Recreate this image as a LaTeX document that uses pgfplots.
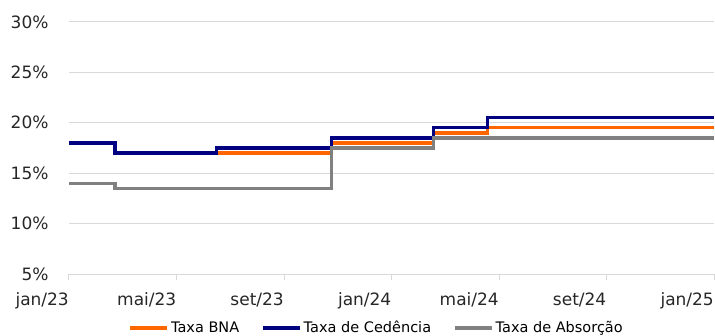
\documentclass[border=0pt]{standalone}
\usepackage{fontspec}
\setmainfont{DejaVu Sans}
\usepackage{pgfplots}
\pgfplotsset{compat=1.18}
\definecolor{bna}{RGB}{255,102,0}
\definecolor{ced}{RGB}{0,0,128}
\definecolor{absc}{RGB}{128,128,128}
\definecolor{gridc}{RGB}{217,217,217}
\begin{document}
\begin{tikzpicture}
\begin{axis}[name=ax, scale only axis, width=645bp, height=252bp,
  xmin=0, xmax=24, ymin=5, ymax=30,
  xtick={0,4,8,12,16,20,24},
  xticklabels={jan/23,mai/23,set/23,jan/24,mai/24,set/24,jan/25},
  ytick={5,10,15,20,25,30},
  yticklabels={5\%,10\%,15\%,20\%,25\%,30\%},
  axis line style={draw=none},
  xtick pos=bottom, ytick pos=left,
  tick align=outside, major tick length=6bp,
  xtick style={draw=gridc, line width=1bp},
  ytick style={draw=none},
  ymajorgrids, grid style={draw=gridc, line width=1bp},
  ticklabel style={font=\fontsize{17bp}{20bp}\selectfont, text=black!85},
  xticklabel style={anchor=base east, inner sep=0pt, yshift=-25bp},
  yticklabel style={xshift=-11bp},
  legend columns=3,
  legend style={draw=none, fill=none, at={(0.477,-0.214)}, anchor=center,
    font=\fontsize{14.5bp}{17bp}\selectfont, inner sep=0pt,
    nodes={inner xsep=2bp, inner ysep=0pt},
    /tikz/every even column/.append style={column sep=20bp}},
  legend image code/.code={\draw[#1, line width=3.5bp] (0bp,0bp) -- (37bp,0bp);},
  every axis plot/.append style={const plot, line width=3.3bp, mark=none},
]
\addplot[bna] coordinates {(0,18) (1.71,17) (9.78,18) (13.57,19) (15.58,19.5) (24,19.5)};
\addlegendentry{Taxa BNA}
\addplot[ced] coordinates {(0,18) (1.71,17) (5.48,17.5) (9.78,18.5) (13.57,19.5) (15.58,20.5) (24,20.5)};
\addlegendentry{Taxa de Cedência}
\addplot[absc] coordinates {(0,14) (1.71,13.5) (9.78,17.5) (13.57,18.5) (24,18.5)};
\addlegendentry{Taxa de Absorção}
\end{axis}
\pgfresetboundingbox
\path[use as bounding box] ([xshift=-69bp,yshift=-62bp]ax.south west) rectangle ++(715bp,336bp);
\end{tikzpicture}
\end{document}
